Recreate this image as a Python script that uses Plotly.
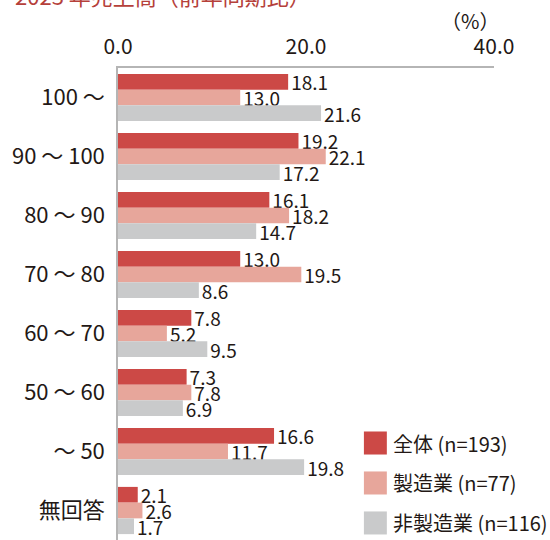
import plotly.graph_objects as go

categories = ['100 〜', '90 〜 100', '80 〜 90', '70 〜 80', '60 〜 70', '50 〜 60', '〜 50', '無回答']
series_names = ['全体 (n=193)', '製造業 (n=77)', '非製造業 (n=116)']
all_values = [18.1, 19.2, 16.1, 13.0, 7.8, 7.3, 16.6, 2.1]
mfg_values = [13.0, 22.1, 18.2, 19.5, 5.2, 7.8, 11.7, 2.6]
nonmfg_values = [21.6, 17.2, 14.7, 8.6, 9.5, 6.9, 19.8, 1.7]
tick_values = [0, 20, 40]

colors = ['#CC4946', '#E7A69B', '#C9CACB']
font = 'Noto Sans CJK JP'
ink = '#231815'

fig = go.Figure()
for name, vals, col in zip(series_names, [all_values, mfg_values, nonmfg_values], colors):
    fig.add_trace(go.Bar(
        y=categories, x=vals, name=name, orientation='h',
        marker=dict(color=col, line=dict(width=0)),
        text=[f'{v:.1f}' for v in vals], textposition='outside',
        constraintext='none',
        textfont=dict(size=19, color=ink, family=font),
        cliponaxis=False, showlegend=False,
    ))

# legend drawn by hand so the swatches can be large
for i, (name, col) in enumerate(zip(series_names, colors)):
    yc = 0.2055 - i * 0.0847
    fig.add_shape(type='rect', xref='paper', yref='paper',
                  x0=0.654, x1=0.715, y0=yc - 0.0244, y1=yc + 0.0244,
                  fillcolor=col, line=dict(width=0))
    fig.add_annotation(x=0.726, y=yc, xref='paper', yref='paper',
                       text=name, showarrow=False, xanchor='left', yanchor='middle',
                       font=dict(size=20, color=ink, family=font))

# title, mostly cut off at the top edge as in the source
fig.add_annotation(x=-0.28, y=1.117, xref='paper', yref='paper',
                   text='2023 年売上高（前年同期比）', showarrow=False,
                   xanchor='left', yanchor='bottom',
                   font=dict(size=22, color='#B5403A', family=font))

fig.add_annotation(x=0.935, y=1.0996, xref='paper', yref='paper', text='（%）',
                   showarrow=False, xanchor='center', yanchor='middle',
                   font=dict(size=20, color=ink, family=font))

fig.update_layout(
    width=550, height=540,
    margin=dict(l=118, r=56, t=68, b=0),
    barmode='group', bargap=0.2, bargroupgap=0,
    plot_bgcolor='white', paper_bgcolor='white',
    font=dict(family=font, color=ink),
    xaxis=dict(side='top', range=[0, 40], tickvals=tick_values, tickformat='.1f',
               showgrid=False, zeroline=False, showline=True, linecolor='#B5B5B5',
               linewidth=1.5, ticklabelstandoff=4,
               tickfont=dict(size=21, color=ink), automargin=False),
    yaxis=dict(autorange='reversed', showgrid=False, showline=True,
               linecolor='#B5B5B5', linewidth=1.5, ticklabelstandoff=7,
               tickfont=dict(size=22, color=ink), automargin=False),
)

fig.write_html('out.html', config={'displayModeBar': False},
               post_script="document.body.style.margin='0';")
